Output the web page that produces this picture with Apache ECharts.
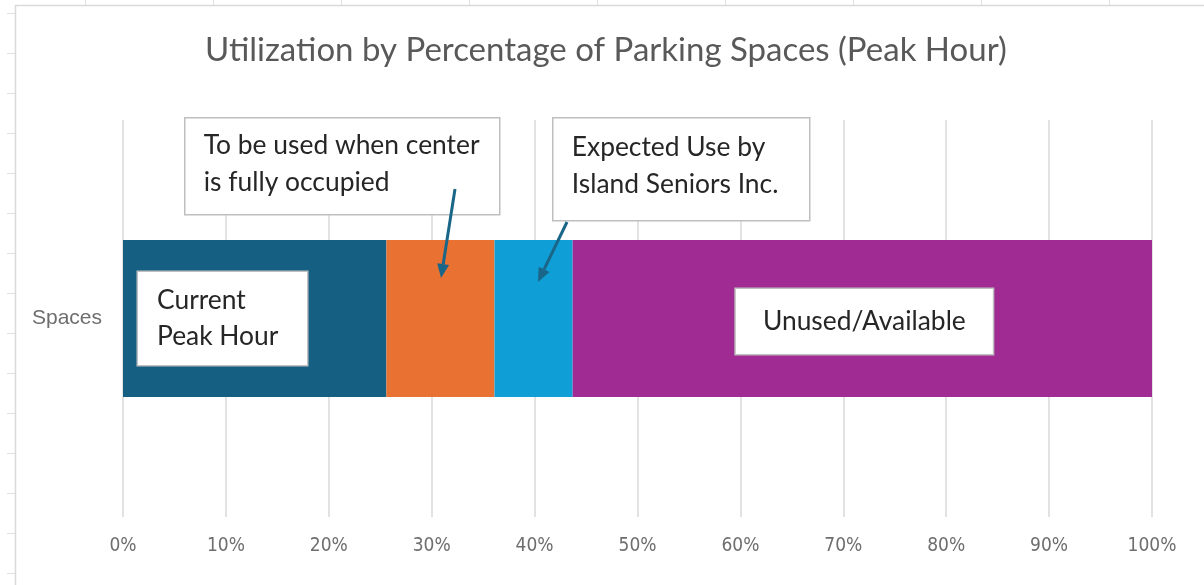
<!DOCTYPE html>
<html>
<head>
<meta charset="utf-8">
<script src="https://cdn.jsdelivr.net/npm/echarts@6/dist/echarts.min.js"></script>
<style>
html,body{margin:0;padding:0;background:#fff;}
#chart{width:1204px;height:585px;}
</style>
</head>
<body>
<div id="chart"></div>
<script>
// data
var categories = ['Spaces'];
var seriesNames = ['Current Peak Hour', 'Fully Occupied', 'Island Seniors Inc.', 'Unused/Available'];
var currentPeak = [25.6];
var fullyOccupied = [10.5];
var islandSeniors = [7.6];
var unusedAvail = [56.3];
var xTicks = [0, 10, 20, 30, 40, 50, 60, 70, 80, 90, 100];

var colors = ['#156082', '#E97132', '#0F9ED5', '#A02B93'];
var txtFont = 'Lato, "Open Sans", sans-serif';
var axisFont = '"Liberation Sans Narrow", "Arial Narrow", "DejaVu Sans Condensed", sans-serif';

//spreadsheet cell lines round the chart
function sheetLines(){
	var els = [];
	for(var y=13;y<585;y+=40){
		els.push({type:'line',shape:{x1:7,y1:y+0.5,x2:15,y2:y+0.5},style:{stroke:'#e1e1e1',lineWidth:1}});
	}
	for(var x=85;x<1204;x+=128){
		els.push({type:'line',shape:{x1:x+0.5,y1:0,x2:x+0.5,y2:5},style:{stroke:'#e1e1e1',lineWidth:1}});
	}
	els.push({type:'line',shape:{x1:15,y1:5.5,x2:1204,y2:5.5},style:{stroke:'#d9d9d9',lineWidth:1.5}});
	els.push({type:'line',shape:{x1:15.5,y1:5,x2:15.5,y2:585},style:{stroke:'#d9d9d9',lineWidth:1.5}});
	return els;
}

//callout box with text
function calloutBox(x, y, w, h, text, ty){
	return {
		type:'group', left:x, top:y, z:100,
		children:[
			{type:'rect',z:100,shape:{x:0,y:0,width:w,height:h},style:{fill:'#fff',stroke:'#bfbfbf',lineWidth:1.5}},
			{type:'text',z:101,x:19,y:ty,style:{text:text,font:'26.4px '+txtFont,fill:'#262626',lineHeight:37}}
		]
	};
}

//arrow line with head
function arrow(x1, y1, x2, y2){
	var ang = Math.atan2(y2-y1, x2-x1);
	var len = 14, hw = 6;
	var bx = x2 - len*Math.cos(ang), by = y2 - len*Math.sin(ang);
	var px = -Math.sin(ang)*hw, py = Math.cos(ang)*hw;
	return [
		{type:'line',z:102,shape:{x1:x1,y1:y1,x2:bx,y2:by},style:{stroke:'#1a6688',lineWidth:3}},
		{type:'polygon',z:102,shape:{points:[[x2,y2],[bx+px,by+py],[bx-px,by-py]]},style:{fill:'#1a6688'}}
	];
}

function barSeries(name, data, idx, label){
	return {
		name:name, type:'bar', stack:'total', data:data,
		barWidth:157,
		itemStyle:{color:colors[idx]},
		label:label || {show:false},
		emphasis:{disabled:true}
	};
}

var boxLabel = {
	backgroundColor:'#fff', borderColor:'#bfbfbf', borderWidth:1.5,
	color:'#262626', fontFamily:txtFont, fontSize:26.4, lineHeight:36
};

var option = {
	animation:false,
	title:{
		text:'Utilization by Percentage of Parking Spaces (Peak Hour)',
		left:200, top:29, padding:5,
		textStyle:{color:'#595959',fontSize:33,fontWeight:'normal',fontFamily:txtFont}
	},
	grid:{left:123, right:52, top:120, bottom:68},
	xAxis:{
		type:'value', min:0, max:100, interval:10,
		axisLine:{show:false}, axisTick:{show:false},
		splitLine:{lineStyle:{color:'#d9d9d9',width:1.5}},
		axisLabel:{
			color:'#6e6e6e', fontSize:19, fontFamily:axisFont, margin:20,
			formatter:function(v){ return xTicks.indexOf(v) >= 0 ? v + '%' : ''; }
		}
	},
	yAxis:{
		type:'category', data:categories,
		axisLine:{show:false}, axisTick:{show:false},
		axisLabel:{color:'#6e6e6e', fontSize:21, fontFamily:'"Liberation Sans", Arial, sans-serif', margin:21}
	},
	series:[
		barSeries(seriesNames[0], currentPeak, 0, Object.assign({
			show:true, position:'insideLeft', distance:15, align:'left',
			formatter:'Current\nPeak Hour', width:131, height:72, padding:[10,19,11,19]
		}, boxLabel)),
		barSeries(seriesNames[1], fullyOccupied, 1),
		barSeries(seriesNames[2], islandSeniors, 2),
		barSeries(seriesNames[3], unusedAvail, 3, Object.assign({
			show:true, position:'inside', offset:[2,3], align:'center',
			formatter:'Unused/Available', width:219, height:36, padding:[12,19,17,19]
		}, boxLabel))
	],
	graphic:[]
};

var myChart = echarts.init(document.getElementById('chart'));
option.graphic = sheetLines()
	.concat([calloutBox(184,117,315,97,'To be used when center\nis fully occupied',9),
	         calloutBox(552,117,257,103,'Expected Use by\nIsland Seniors Inc.',11)])
	.concat(arrow(455,189,441,278))
	.concat(arrow(567,222,538,282));
myChart.setOption(option);
</script>
</body>
</html>
